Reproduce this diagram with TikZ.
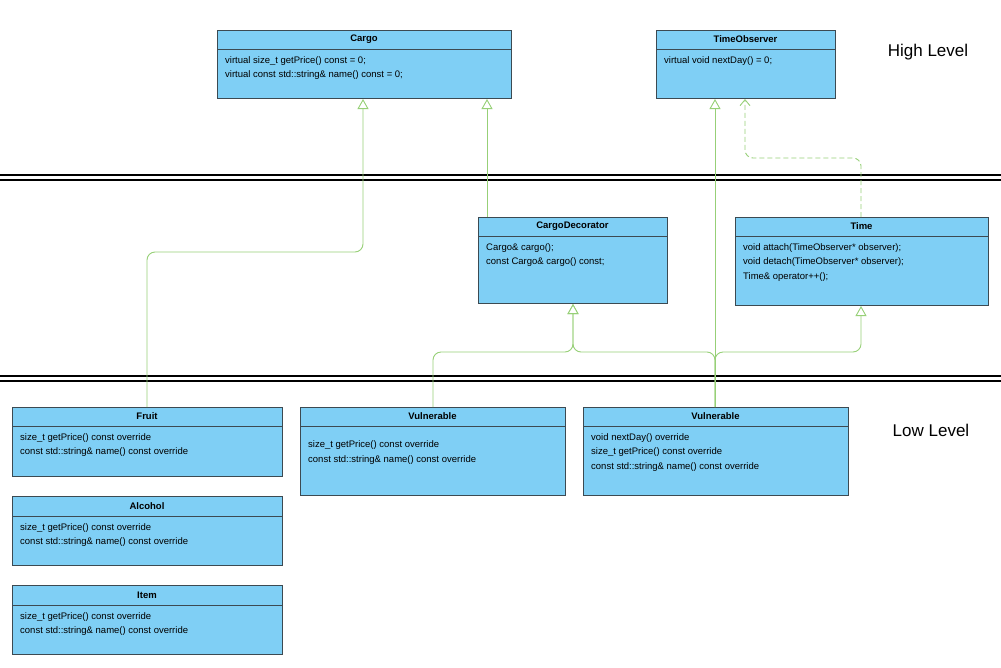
\documentclass[tikz,border=0pt]{standalone}
\usepackage{fontspec}
\setmainfont{Liberation Sans}
\usetikzlibrary{arrows.meta}
\definecolor{boxfill}{HTML}{7FCFF5}
\definecolor{boxline}{HTML}{3C4A52}
\definecolor{conn}{HTML}{97D077}
\tikzset{
  cls/.style={draw=boxline,fill=boxfill,line width=1pt,inner sep=0,anchor=north west},
  body/.style={anchor=north west,align=left,font=\fontsize{9.5}{14.5}\selectfont,inner sep=0},
  ttl/.style={font=\bfseries\fontsize{9.5}{11}\selectfont,inner sep=0},
  gen/.style={draw=conn,line width=0.9pt,rounded corners=8pt,-{Triangle[open,fill=white,length=10pt,width=11pt]}},
  dep/.style={draw=conn,line width=0.9pt,dashed,dash pattern=on 5pt off 3pt,rounded corners=8pt,-{Straight Barb[length=6pt,width=10pt]}},
  sep/.style={line width=1.2pt,black},
  lvl/.style={font=\fontsize{17}{20}\selectfont,inner sep=0}
}
\newcommand{\umlbox}[8]{%
  \node[cls,minimum width=#4pt-#2pt,minimum height=#5pt-#3pt] (#1) at (#2,#3) {};
  \draw[boxline,line width=1pt] (#2,#6) -- (#4,#6);
  \node[ttl] (#1t) at ({(#2+#4)/2},{(#3+#6)/2}) {#7};
  \node[body] (#1b) at (#2+8,#6+7) {#8};
}
\begin{document}
\begin{tikzpicture}[x=1pt,y=-1pt]
\useasboundingbox (0,0) rectangle (1001,667);
\fill[white] (0,0) rectangle (1001,667);
% separators
\draw[sep] (0,175) -- (1001,175); \draw[sep] (0,180) -- (1001,180);
\draw[sep] (0,376) -- (1001,376); \draw[sep] (0,381) -- (1001,381);
\node[lvl] (hl) at (928,52) {High Level};
\node[lvl] (ll) at (931,430) {Low Level};
\umlbox{cargo}{217}{30}{511}{98}{49}{Cargo}{virtual size\_t getPrice() const = 0;\\virtual const std::string\& name() const = 0;}
\umlbox{tobs}{656}{30}{835}{98}{49}{TimeObserver}{virtual void nextDay() = 0;}
\umlbox{deco}{478}{217}{667}{303}{236}{CargoDecorator}{Cargo\& cargo();\\const Cargo\& cargo() const;}
\umlbox{time}{735}{217}{988}{305}{236}{Time}{void attach(TimeObserver* observer);\\void detach(TimeObserver* observer);\\Time\& operator++();}
\umlbox{fruit}{12}{407}{282}{476}{426}{Fruit}{size\_t getPrice() const override\\const std::string\& name() const override}
\umlbox{alc}{12}{496}{282}{565}{516}{Alcohol}{size\_t getPrice() const override\\const std::string\& name() const override}
\umlbox{item}{12}{585}{282}{654}{605}{Item}{size\_t getPrice() const override\\const std::string\& name() const override}
\umlbox{vulA}{300}{407}{565}{495}{426}{Vulnerable}{\\size\_t getPrice() const override\\const std::string\& name() const override}
\umlbox{vulB}{583}{407}{848}{495}{426}{Vulnerable}{void nextDay() override\\size\_t getPrice() const override\\const std::string\& name() const override}
% connectors
\draw[gen] (fruit.north -| 147,0) -- (147,252) -- (363,252) -- (cargo.south -| 363,0);
\draw[gen] (deco.north -| 487,0) -- (cargo.south -| 487,0);
\draw[gen] (vulA.north -| 433,0) -- (433,352) -- (573,352) -- (deco.south -| 573,0);
\draw[gen] (vulB.north -| 715,0) -- (715,352) -- (573,352) -- (deco.south -| 573,0);
\draw[gen] (vulB.north -| 715,0) -- (715,352) -- (861,352) -- (time.south -| 861,0);
\draw[gen] (vulB.north -| 715,0) -- (tobs.south -| 715,0);
\draw[dep] (time.north -| 861,0) -- (861,158) -- (745,158) -- (tobs.south -| 745,0);
\end{tikzpicture}
\end{document}
